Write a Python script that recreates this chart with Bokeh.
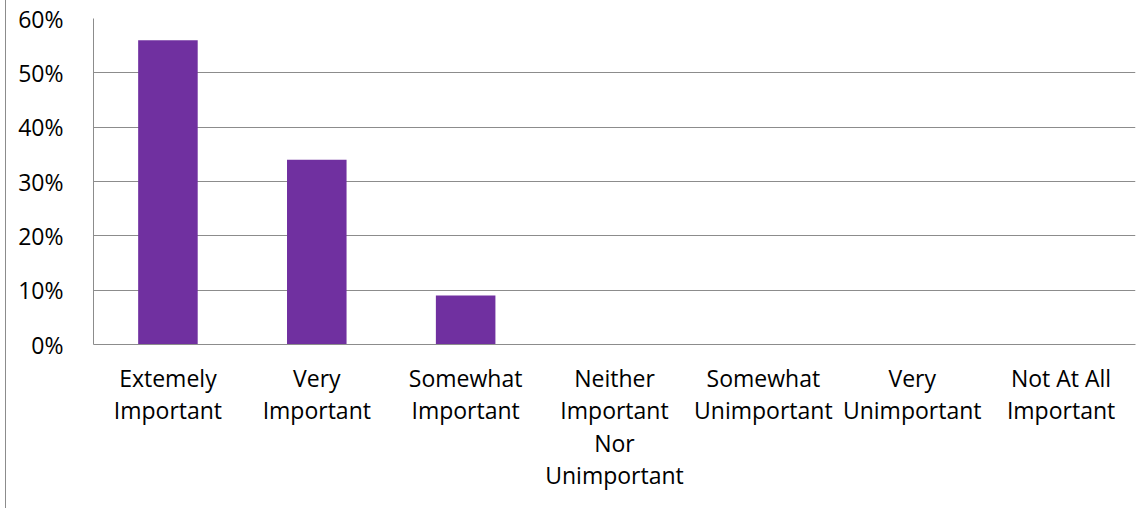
import json
from bokeh.plotting import figure
from bokeh.layouts import row
from bokeh.models import (ColumnDataSource, FactorRange, Range1d, FixedTicker,
                          NumeralTickFormatter, CustomJSTickFormatter, Div)
from bokeh.embed import file_html
from bokeh.resources import INLINE

categories = [
    "Extemely Important",
    "Very Important",
    "Somewhat Important",
    "Neither Important Nor Unimportant",
    "Somewhat Unimportant",
    "Very Unimportant",
    "Not At All Important",
]
tick_labels = [
    "Extemely\nImportant",
    "Very\nImportant",
    "Somewhat\nImportant",
    "Neither\nImportant\nNor\nUnimportant",
    "Somewhat\nUnimportant",
    "Very\nUnimportant",
    "Not At All\nImportant",
]
values = [0.56, 0.34, 0.09, 0.0, 0.0, 0.0, 0.0]
y_ticks = [0.0, 0.1, 0.2, 0.3, 0.4, 0.5, 0.6]

FONT = "Open Sans"
FONT_SIZE = "23px"
GRID = "#8c8c8c"

source = ColumnDataSource(data=dict(cat=categories, val=values))

p = figure(
    x_range=FactorRange(factors=categories, range_padding=0),
    y_range=Range1d(0, 0.6),
    width=1134, height=500,
    output_backend="svg", toolbar_location=None,
    min_border_left=87, min_border_right=5, min_border_top=18, min_border_bottom=156,
)

p.vbar(x="cat", top="val", width=0.4, source=source, fill_color="#7030A0", line_color=None)

p.outline_line_color = None
p.background_fill_color = "white"
p.border_fill_color = "white"

p.xgrid.grid_line_color = None
p.ygrid.grid_line_color = GRID
p.ygrid.grid_line_width = 1
p.ygrid.ticker = FixedTicker(ticks=y_ticks)

p.yaxis.ticker = FixedTicker(ticks=y_ticks)
p.yaxis.formatter = NumeralTickFormatter(format="0%")
p.yaxis.axis_line_color = GRID
p.yaxis.major_tick_line_color = None
p.yaxis.minor_tick_line_color = None
p.yaxis.major_label_standoff = 24
p.yaxis.major_label_text_font = FONT
p.yaxis.major_label_text_font_size = FONT_SIZE
p.yaxis.major_label_text_color = "#000000"

mapping = json.dumps(dict(zip(categories, tick_labels)))
xa = p.xaxis[0]
xa.formatter = CustomJSTickFormatter(code="const m = %s; return (tick in m) ? m[tick] : tick;" % mapping)
xa.axis_line_color = GRID
xa.major_tick_line_color = None
xa.minor_tick_line_color = None
xa.major_label_standoff = 11
xa.major_label_text_font = FONT
xa.major_label_text_font_size = FONT_SIZE
xa.major_label_text_color = "#000000"
xa.major_label_text_line_height = 1.02
xa.major_label_orientation = "horizontal"

# chart-area border: only its left edge is visible in the reference
edge = Div(text="", width=6, height=508, margin=(0, 0, 0, 0),
           styles={"border-right": "1.5px solid #8c8c8c", "box-sizing": "border-box"})

layout = row(edge, p)

open("out.html", "w").write(file_html(layout, INLINE))
